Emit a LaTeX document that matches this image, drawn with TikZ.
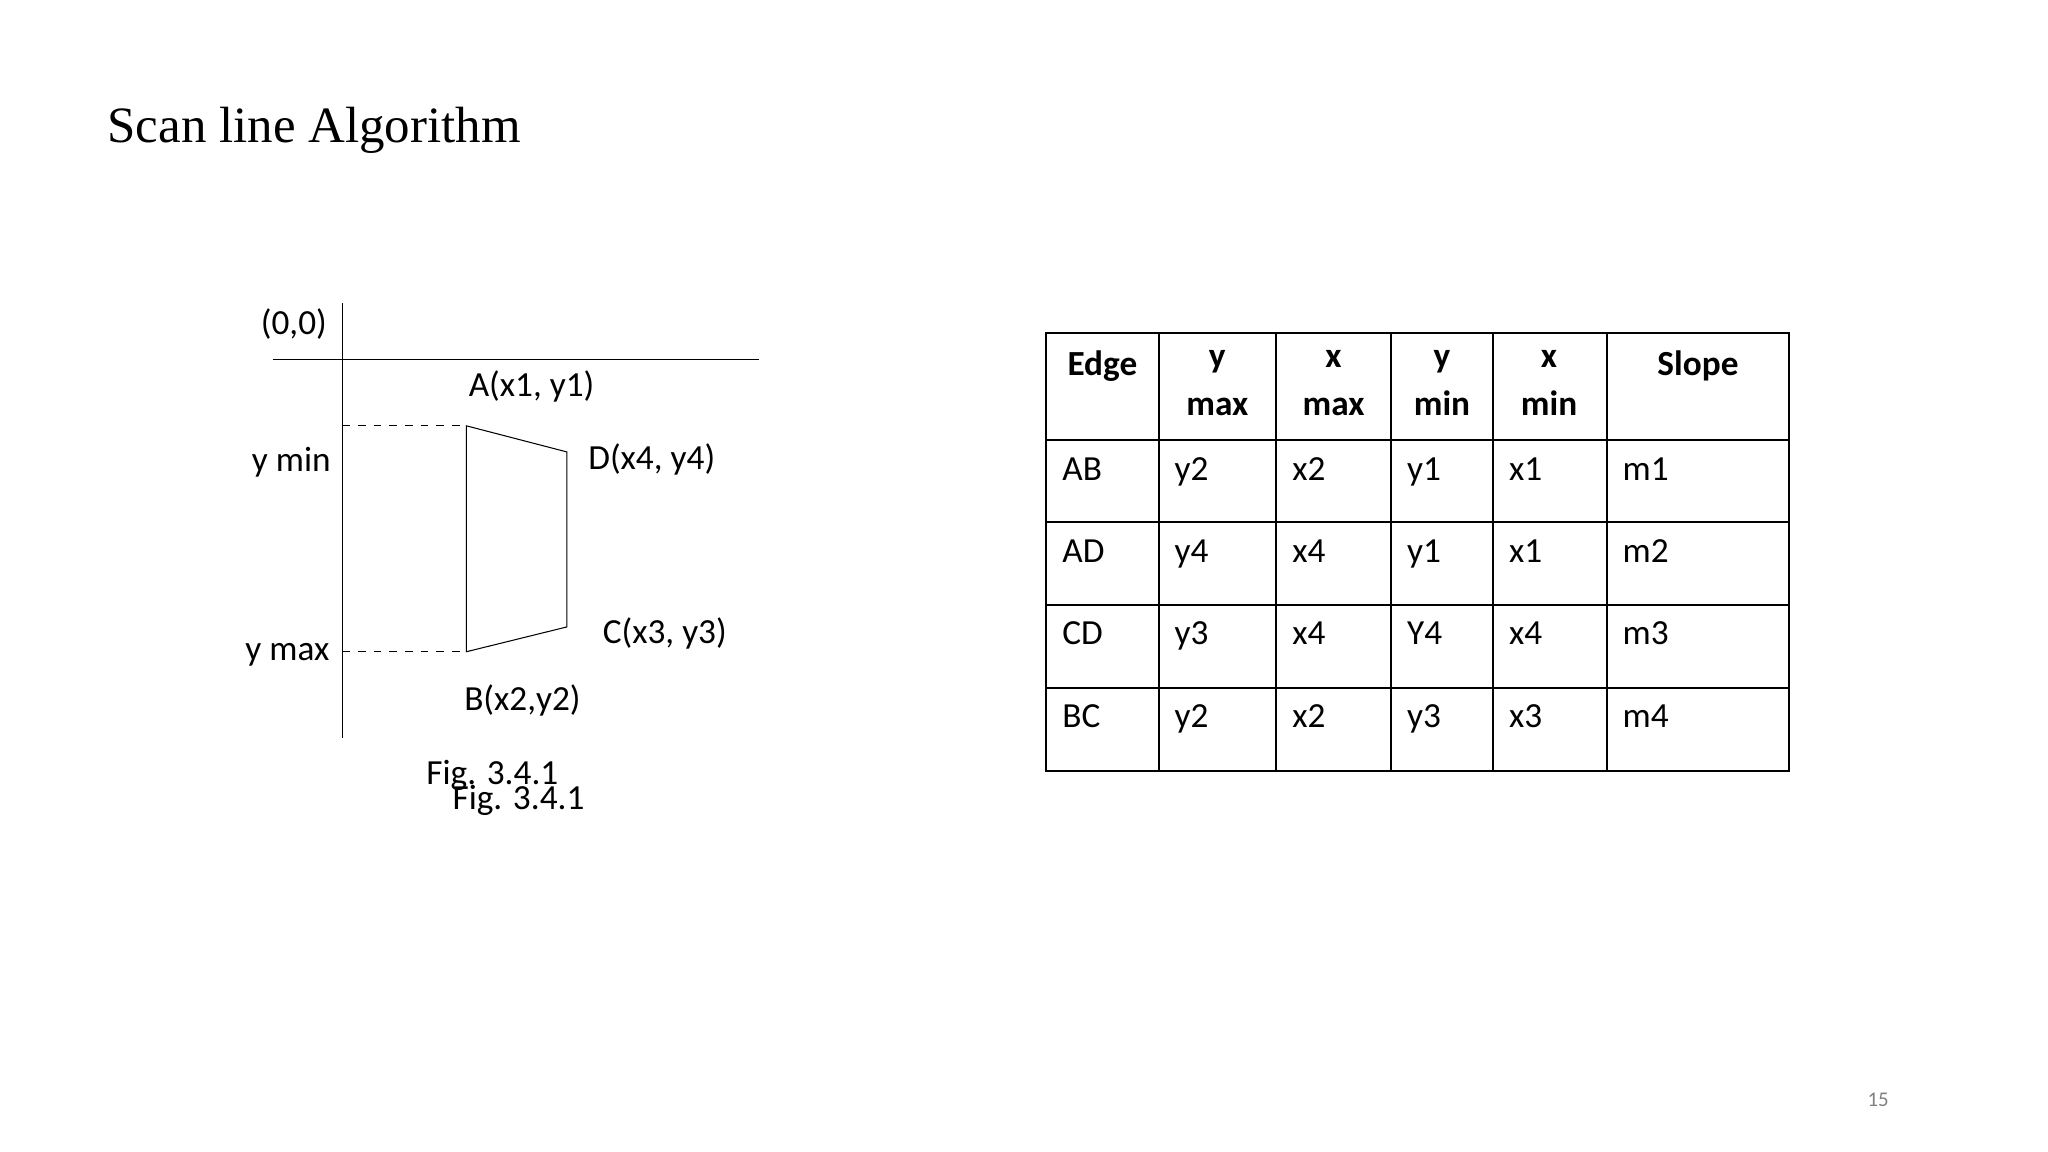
\documentclass[tikz,border=0pt]{standalone}
\usepackage{fontspec}
\setmainfont{Carlito}
\newfontfamily\titlefont{Liberation Serif}
\begin{document}
\begin{tikzpicture}[x=0.5pt,y=-0.5pt,
  lbl/.style={font=\fontsize{13.5}{15}\selectfont,inner sep=0pt},
  hd/.style={font=\bfseries\fontsize{13.5}{16.5}\selectfont,inner sep=0pt,align=center},
  cell/.style={font=\fontsize{13.5}{15}\selectfont,inner sep=0pt,anchor=west,text height=1.6ex,text depth=0.4ex}]
\useasboundingbox (0,0) rectangle (1568,882);
\node[font=\titlefont\fontsize{19.5}{21}\selectfont,anchor=west,inner sep=0pt] (title) at (82,100) {Scan line Algorithm};
% axes
\coordinate (vt) at (262,232); \coordinate (vb) at (262,565);
\coordinate (hl) at (209,275); \coordinate (hr) at (581,275);
\draw (vt)--(vb); \draw (hl)--(hr);
\coordinate (A) at (357,326); \coordinate (D) at (434,346);
\coordinate (C) at (434,480); \coordinate (B) at (357,499);
\coordinate (ya) at (262,326); \coordinate (yb) at (262,499);
\draw (A)--(D)--(C)--(B)--cycle;
\draw[dashed] (ya)--(A); \draw[dashed] (yb)--(B);
\node[lbl] (o) at (225,248) {(0,0)};
\node[lbl] (la) at (407,296) {A(x1, y1)};
\node[lbl] (lymin) at (223,354) {y min};
\node[lbl] (ld) at (499,352) {D(x4, y4)};
\node[lbl] (lc) at (509,485) {C(x3, y3)};
\node[lbl] (lymax) at (220,501) {y max};
\node[lbl] (lb) at (400,536) {B(x2,y2)};
\node[lbl] (f1) at (377,594) {Fig. 3.4.1};
\node[lbl] (f2) at (397,613) {Fig. 3.4.1};
\node[font=\fontsize{8}{9}\selectfont,text=gray,inner sep=0pt] (pg) at (1438,842) {15};
% table
\draw[line width=0.8pt] (801,255) rectangle (1370,590);
\foreach \x in {887,977,1065,1143,1230} \draw[line width=0.8pt] (\x,255)--(\x,590);
\foreach \y in {337,400,463,527} \draw[line width=0.8pt] (801,\y)--(1370,\y);
\node[hd,anchor=north] (h1) at (844,268) {Edge};
\node[hd,anchor=north] (h2) at (932,268) {y\\[2pt]max};
\node[hd,anchor=north] (h3) at (1021,268) {x\\[2pt]max};
\node[hd,anchor=north] (h4) at (1104,268) {y\\[2pt]min};
\node[hd,anchor=north] (h5) at (1186,268) {x\\[2pt]min};
\node[hd,anchor=north] (h6) at (1300,268) {Slope};
\foreach \r/\y in {{AB,y2,x2,y1,x1,m1}/362,{AD,y4,x4,y1,x1,m2}/425,{CD,y3,x4,Y4,x4,m3}/488,{BC,y2,x2,y3,x3,m4}/551}{
  \foreach \t [count=\i] in \r {
    \pgfmathsetmacro\xx{{801,887,977,1065,1143,1230}[\i-1]+12}
    \node[cell] at (\xx,\y) {\t};
  }
}
\end{tikzpicture}
\end{document}
